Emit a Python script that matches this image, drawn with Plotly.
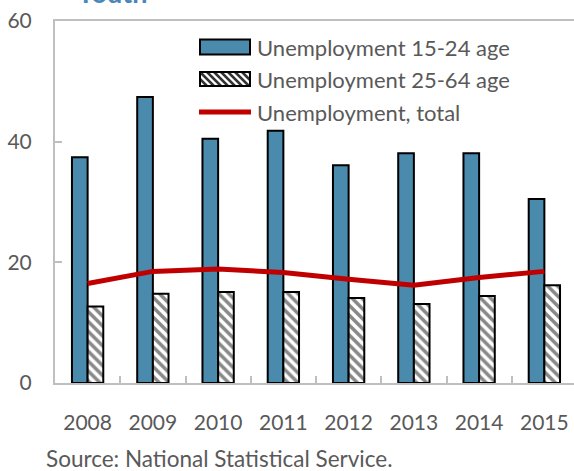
import plotly.graph_objects as go

# Unemployment rates (%) by year
years = ["2008", "2009", "2010", "2011", "2012", "2013", "2014", "2015"]
youth_15_24 = [37.4, 47.4, 40.5, 41.8, 36.1, 38.1, 38.1, 30.5]
adult_25_64 = [12.7, 14.8, 15.1, 15.1, 14.1, 13.1, 14.4, 16.2]
total_rate = [16.5, 18.5, 18.9, 18.3, 17.2, 16.2, 17.5, 18.5]

series_names = ["Unemployment 15-24 age", "Unemployment 25-64 age", "Unemployment, total"]

W, H = 574, 471
L, R, T, B = 55, 0, 21, 88
PW, PH = W - L - R, H - T - B

BLUE = "#4a8aad"
RED = "#c00000"
GRAY_TXT = "#595959"
AXIS = "#bfbfbf"
FONT = "Lato"


def px_x(x):
    return (x - L) / PW


def px_y(y):
    return 1 - (y - T) / PH


fig = go.Figure()
fig.add_trace(go.Bar(
    x=years, y=youth_15_24, name=series_names[0],
    marker=dict(color=BLUE, line=dict(color="black", width=2)),
))
fig.add_trace(go.Bar(
    x=years, y=adult_25_64, name=series_names[1],
    marker=dict(color="white", line=dict(color="black", width=2),
                pattern=dict(shape="\\", fgcolor="#111111", bgcolor="white",
                             size=7, solidity=0.5)),
))
fig.add_trace(go.Scatter(
    x=years, y=total_rate, name=series_names[2], mode="lines",
    line=dict(color=RED, width=5),
))

# Hand-drawn legend (wide swatches)
shapes = []
sw_x0, sw_x1 = 200, 250
rows = [47, 79, 112]
shapes.append(dict(type="rect", xref="paper", yref="paper",
                   x0=px_x(sw_x0), x1=px_x(sw_x1), y0=px_y(rows[0] + 7.5), y1=px_y(rows[0] - 7.5),
                   fillcolor=BLUE, line=dict(color="black", width=2), layer="above"))
# hatched swatch: white box with diagonal strokes clipped to the box
hy0, hy1 = rows[1] - 7, rows[1] + 7
segs = []
step = 7
h = hy1 - hy0
x = sw_x0 - h
while x < sw_x1:
    # "\" stroke from (x, hy0) to (x + h, hy1), clipped to [sw_x0, sw_x1]
    xa, ya = x, hy0
    xb, yb = x + h, hy1
    if xa < sw_x0:
        ya = hy0 + (sw_x0 - xa)
        xa = sw_x0
    if xb > sw_x1:
        yb = hy1 - (xb - sw_x1)
        xb = sw_x1
    if xb > xa:
        segs.append(f"M{px_x(xa)},{px_y(ya)} L{px_x(xb)},{px_y(yb)}")
    x += step
shapes.append(dict(type="rect", xref="paper", yref="paper",
                   x0=px_x(sw_x0), x1=px_x(sw_x1), y0=px_y(hy1), y1=px_y(hy0),
                   fillcolor="white", line=dict(width=0), layer="above"))
shapes.append(dict(type="path", xref="paper", yref="paper", path=" ".join(segs),
                   line=dict(color="#333333", width=2.5), layer="above"))
shapes.append(dict(type="rect", xref="paper", yref="paper",
                   x0=px_x(sw_x0), x1=px_x(sw_x1), y0=px_y(hy1), y1=px_y(hy0),
                   fillcolor="rgba(0,0,0,0)", line=dict(color="black", width=2), layer="above"))
shapes.append(dict(type="line", xref="paper", yref="paper",
                   x0=px_x(sw_x0 - 1), x1=px_x(sw_x1 + 1), y0=px_y(rows[2]), y1=px_y(rows[2]),
                   line=dict(color=RED, width=5), layer="above"))

annotations = []
for name, ry in zip(series_names, rows):
    annotations.append(dict(text=name, xref="paper", yref="paper", x=px_x(255), y=px_y(ry),
                            xanchor="left", yanchor="middle", showarrow=False,
                            font=dict(family=FONT, size=22, color=GRAY_TXT)))
annotations.append(dict(text="Source: National Statistical Service.", xref="paper", yref="paper",
                        x=px_x(44), y=px_y(459), xanchor="left", yanchor="middle", showarrow=False,
                        font=dict(family=FONT, size=22.5, color=GRAY_TXT)))
annotations.append(dict(text="<b>Youth</b>", xref="paper", yref="paper",
                        x=px_x(74), y=px_y(-7), xanchor="left", yanchor="middle", showarrow=False,
                        font=dict(family=FONT, size=27, color="#4a86b8")))

fig.update_layout(
    width=W, height=H,
    margin=dict(l=L, r=R, t=T, b=B, pad=0),
    paper_bgcolor="white", plot_bgcolor="white",
    barmode="group", bargap=0.52, bargroupgap=0,
    showlegend=False,
    shapes=shapes, annotations=annotations,
    font=dict(family=FONT, color=GRAY_TXT),
)
fig.update_xaxes(
    type="category", range=[-0.5, 7.5 - 3 / 65.3],
    showline=True, linecolor=AXIS, linewidth=2, mirror=True,
    ticks="inside", tickson="boundaries", ticklen=7, tickcolor=AXIS, tickwidth=2,
    showgrid=False, ticklabelstandoff=20,
    tickfont=dict(family=FONT, size=21, color=GRAY_TXT),
)
fig.update_yaxes(
    range=[0, 60], tickvals=[0, 20, 40, 60],
    showline=True, linecolor=AXIS, linewidth=2,
    ticks="inside", ticklen=7, tickcolor=AXIS, tickwidth=2,
    showgrid=False, zeroline=False, ticklabelstandoff=17,
    tickfont=dict(family=FONT, size=21, color=GRAY_TXT),
)

fig.write_html("out.html")
